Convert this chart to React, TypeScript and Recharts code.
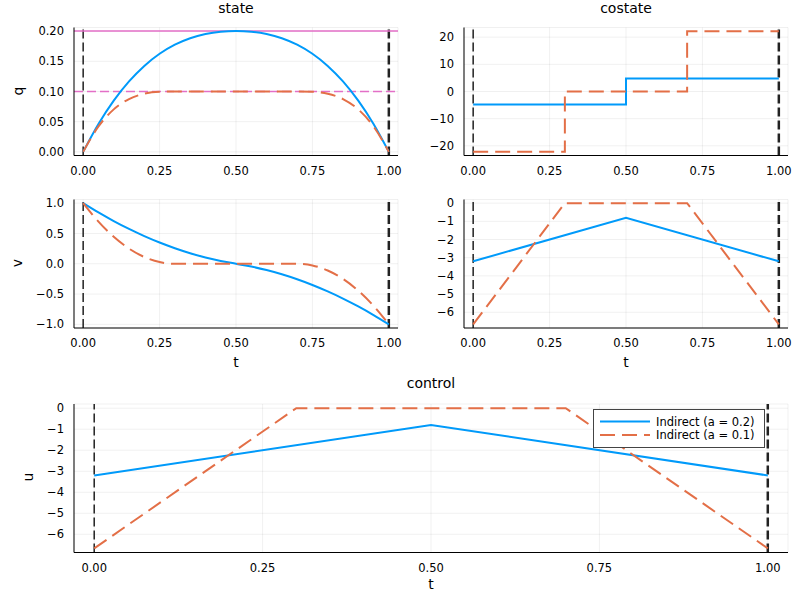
import React from "react";
import {
  CartesianGrid,
  Line,
  LineChart,
  ReferenceLine,
  XAxis,
  YAxis,
} from "recharts";

const BLUE = "#009AFA";
const ORANGE = "#E36F47";
const PINK = "#E36FC7";
const FONT = "DejaVu Sans, sans-serif";

const SERIES_NAMES = ["Indirect (a = 0.2)", "Indirect (a = 0.1)"];
const A_LEVELS = [0.2, 0.1];

// time grid for the smooth states
const T_SMOOTH = [
  0, 0.05, 0.1, 0.15, 0.2, 0.25, 0.3, 0.35, 0.4, 0.45, 0.5, 0.55, 0.6, 0.65,
  0.7, 0.75, 0.8, 0.85, 0.9, 0.95, 1,
];
const Q_A02 = [
  0, 0.0461, 0.0848, 0.1167, 0.1424, 0.1625, 0.1776, 0.1883, 0.1952, 0.1989,
  0.2, 0.1989, 0.1952, 0.1883, 0.1776, 0.1625, 0.1424, 0.1167, 0.0848, 0.0461,
  0,
];
const Q_A01 = [
  0, 0.0421, 0.0704, 0.0875, 0.0963, 0.0995, 0.1, 0.1, 0.1, 0.1, 0.1, 0.1, 0.1,
  0.1, 0.1, 0.0995, 0.0963, 0.0875, 0.0704, 0.0421, 0,
];
const V_A02 = [
  1, 0.846, 0.704, 0.574, 0.456, 0.35, 0.256, 0.174, 0.104, 0.046, 0, -0.046,
  -0.104, -0.174, -0.256, -0.35, -0.456, -0.574, -0.704, -0.846, -1,
];
const V_A01 = [
  1, 0.6944, 0.4444, 0.25, 0.1111, 0.0278, 0, 0, 0, 0, 0, 0, 0, 0, 0, -0.0278,
  -0.1111, -0.25, -0.4444, -0.6944, -1,
];

// costate p_q (piecewise constant)
const PQ_T_A02 = [0, 0.5, 1];
const PQ_A02 = [-4.8, 4.8, 4.8];
const PQ_T_A01 = [0, 0.3, 0.7, 1];
const PQ_A01 = [-22.22, 0, 22.22, 22.22];

// control u (also the costate p_v)
const U_T_A02 = [0, 0.5, 1];
const U_A02 = [-3.2, -0.8, -3.2];
const U_T_A01 = [0, 0.3, 0.7, 1];
const U_A01 = [-6.67, 0, 0, -6.67];

const T_TICKS = [0, 0.25, 0.5, 0.75, 1];
const Q_TICKS = [0, 0.05, 0.1, 0.15, 0.2];
const PQ_TICKS = [-20, -10, 0, 10, 20];
const V_TICKS = [-1, -0.5, 0, 0.5, 1];
const U_TICKS = [-6, -5, -4, -3, -2, -1, 0];

const zip = (t: number[], y: number[]) => t.map((tt, i) => ({ t: tt, y: y[i] }));

const fmt = (digits: number) => (v: number) =>
  v.toFixed(digits).replace("-", "\u2212");

const YW = 40;
const XH = 24;

type Box = { l: number; r: number; t: number; b: number };

const tickStyle = { fontSize: 11.5, fill: "#000", fontFamily: FONT };

const Panel = ({
  box,
  yDomain,
  yTicks,
  yDigits,
  children,
}: {
  box: Box;
  yDomain: [number, number];
  yTicks: number[];
  yDigits: number;
  children: React.ReactNode;
}) => (
  <div style={{ position: "absolute", left: 0, top: 0 }}>
    <LineChart
      width={800}
      height={600}
      margin={{
        top: box.t,
        bottom: 600 - box.b - XH,
        left: box.l - YW,
        right: 800 - box.r,
      }}
    >
      <CartesianGrid stroke="#000" strokeOpacity={0.1} strokeWidth={0.6} />
      <XAxis
        type="number"
        dataKey="t"
        domain={[-0.03, 1.03]}
        ticks={T_TICKS}
        interval={0}
        allowDataOverflow
        height={XH}
        tickLine={false}
        tickMargin={5}
        tick={tickStyle}
        axisLine={{ stroke: "#000" }}
        tickFormatter={fmt(2)}
      />
      <YAxis
        type="number"
        dataKey="y"
        domain={yDomain}
        ticks={yTicks}
        interval={0}
        allowDataOverflow
        width={YW}
        tickLine={false}
        tickMargin={4}
        tick={tickStyle}
        axisLine={{ stroke: "#000" }}
        tickFormatter={fmt(yDigits)}
      />
      <ReferenceLine x={0} stroke="#222" strokeWidth={1.5} strokeDasharray="9 4" />
      <ReferenceLine x={1} stroke="#222" strokeWidth={2.5} strokeDasharray="9 4" />
      {children}
    </LineChart>
  </div>
);

const Txt = ({
  x,
  y,
  children,
  size = 14,
  rotate = false,
}: {
  x: number;
  y: number;
  children: React.ReactNode;
  size?: number;
  rotate?: boolean;
}) => (
  <div
    style={{
      position: "absolute",
      left: x,
      top: y,
      transform: `translate(-50%, -50%)${rotate ? " rotate(-90deg)" : ""}`,
      fontFamily: FONT,
      fontSize: size,
      lineHeight: 1,
      whiteSpace: "nowrap",
      color: "#000",
    }}
  >
    {children}
  </div>
);

const P1: Box = { l: 74, r: 398, t: 27.5, b: 155.5 };
const P2: Box = { l: 464, r: 788, t: 27.5, b: 155.5 };
const P3: Box = { l: 74, r: 398, t: 199.5, b: 328 };
const P4: Box = { l: 464, r: 788, t: 199.5, b: 328 };
const P5: Box = { l: 74, r: 788, t: 404, b: 552.5 };

const U_DOMAIN: [number, number] = [-6.867, 0.2];

const blueLine = (data: { t: number; y: number }[], type: any) => (
  <Line
    data={data}
    dataKey="y"
    type={type}
    stroke={BLUE}
    strokeWidth={2}
    dot={false}
    isAnimationActive={false}
  />
);

const orangeLine = (data: { t: number; y: number }[], type: any) => (
  <Line
    data={data}
    dataKey="y"
    type={type}
    stroke={ORANGE}
    strokeWidth={2}
    strokeDasharray="15 7"
    dot={false}
    isAnimationActive={false}
  />
);

export default function App() {
  return (
    <div
      style={{
        position: "absolute",
        left: 0,
        top: 0,
        width: 800,
        height: 600,
        background: "#fff",
        overflow: "hidden",
      }}
    >
      <Panel box={P1} yDomain={[-0.006, 0.206]} yTicks={Q_TICKS} yDigits={2}>
        <ReferenceLine y={A_LEVELS[0]} stroke={PINK} strokeWidth={1.5} />
        <ReferenceLine
          y={A_LEVELS[1]}
          stroke={PINK}
          strokeWidth={1.5}
          strokeDasharray="9 4"
        />
        {blueLine(zip(T_SMOOTH, Q_A02), "monotone")}
        {orangeLine(zip(T_SMOOTH, Q_A01), "monotone")}
      </Panel>
      <Panel box={P2} yDomain={[-23.56, 23.56]} yTicks={PQ_TICKS} yDigits={0}>
        {blueLine(zip(PQ_T_A02, PQ_A02), "stepAfter")}
        {orangeLine(zip(PQ_T_A01, PQ_A01), "stepAfter")}
      </Panel>
      <Panel box={P3} yDomain={[-1.06, 1.06]} yTicks={V_TICKS} yDigits={1}>
        {blueLine(zip(T_SMOOTH, V_A02), "monotone")}
        {orangeLine(zip(T_SMOOTH, V_A01), "monotone")}
      </Panel>
      <Panel box={P4} yDomain={U_DOMAIN} yTicks={U_TICKS} yDigits={0}>
        {blueLine(zip(U_T_A02, U_A02), "linear")}
        {orangeLine(zip(U_T_A01, U_A01), "linear")}
      </Panel>
      <Panel box={P5} yDomain={U_DOMAIN} yTicks={U_TICKS} yDigits={0}>
        {blueLine(zip(U_T_A02, U_A02), "linear")}
        {orangeLine(zip(U_T_A01, U_A01), "linear")}
      </Panel>

      <Txt x={236} y={8}>state</Txt>
      <Txt x={626} y={8}>costate</Txt>
      <Txt x={431} y={383}>control</Txt>
      <Txt x={18} y={91} rotate>q</Txt>
      <Txt x={17} y={263} rotate>v</Txt>
      <Txt x={28} y={477} rotate>u</Txt>
      <Txt x={236} y={362}>t</Txt>
      <Txt x={626} y={362}>t</Txt>
      <Txt x={431} y={584}>t</Txt>

      <svg
        width={800}
        height={600}
        style={{ position: "absolute", left: 0, top: 0, pointerEvents: "none" }}
      >
        <rect
          x={593.5}
          y={409.5}
          width={171}
          height={38}
          fill="#fff"
          stroke="#444"
          strokeWidth={1}
        />
        {SERIES_NAMES.map((name, i) => {
          const y = 421.5 + i * 13.5;
          return (
            <g key={name}>
              <line
                x1={600}
                x2={650}
                y1={y}
                y2={y}
                stroke={i === 0 ? BLUE : ORANGE}
                strokeWidth={2}
                strokeDasharray={i === 0 ? undefined : "15 7"}
              />
              <text
                x={656}
                y={y}
                dominantBaseline="central"
                fontFamily={FONT}
                fontSize={11.5}
                fill="#000"
              >
                {name}
              </text>
            </g>
          );
        })}
      </svg>
    </div>
  );
}
